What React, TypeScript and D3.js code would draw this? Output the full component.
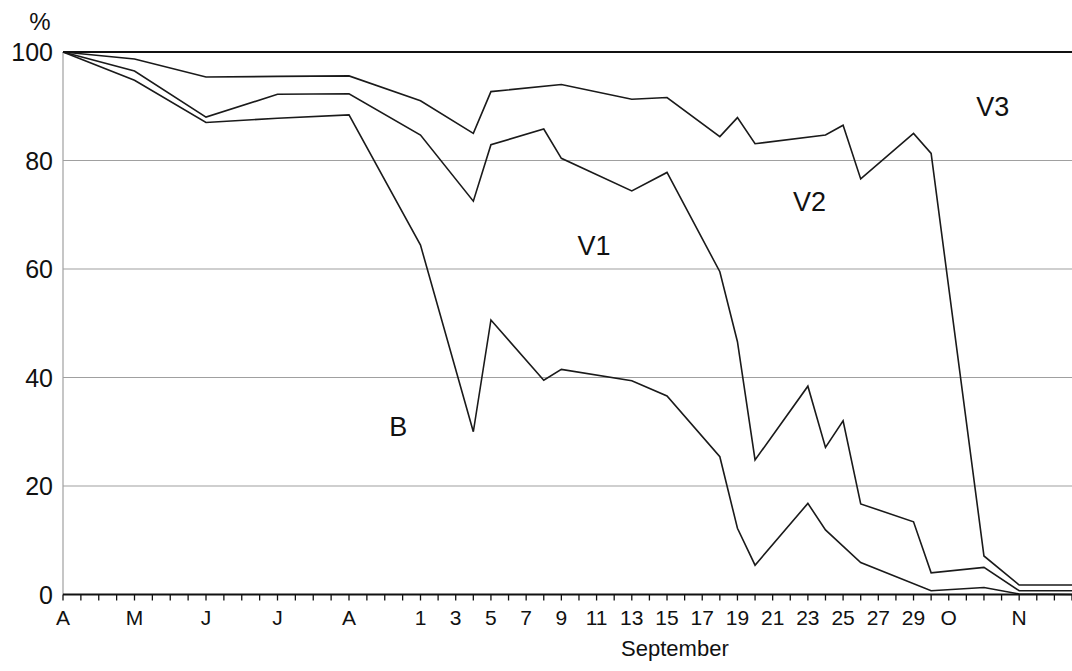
import * as d3 from "d3";

// x positions are in axis-tick units: weekly ticks Apr–Aug, daily in September, weekly again in Oct/Nov
const tickLabels = ["A", "M", "J", "J", "A", "1", "3", "5", "7", "9", "11", "13", "15", "17", "19", "21", "23", "25", "27", "29", "O", "N"];
const tickLabelPos = [0, 4, 8, 12, 16, 20, 22, 24, 26, 28, 30, 32, 34, 36, 38, 40, 42, 44, 46, 48, 50, 54];
const yTicks = [0, 20, 40, 60, 80, 100];

// B boundary
const bT = [0, 4, 8, 12, 16, 20, 23, 24, 27, 28, 32, 34, 37, 38, 39, 42, 43, 45, 49, 52, 54, 57];
const bV = [100, 94.8, 87.0, 87.8, 88.4, 64.4, 30.0, 50.6, 39.5, 41.5, 39.4, 36.6, 25.4, 12.2, 5.4, 16.8, 11.9, 5.9, 0.7, 1.3, 0.1, 0];

// V1 boundary
const v1T = [0, 4, 8, 12, 16, 20, 23, 24, 27, 28, 32, 34, 37, 38, 39, 42, 43, 44, 45, 48, 49, 52, 54, 57];
const v1V = [100, 96.5, 88.0, 92.2, 92.3, 84.7, 72.5, 82.9, 85.8, 80.4, 74.4, 77.8, 59.5, 46.6, 24.8, 38.4, 27.1, 32.0, 16.7, 13.4, 4.0, 5.0, 0.7, 0.7];

// V2 boundary
const v2T = [0, 4, 8, 12, 16, 20, 23, 24, 28, 32, 34, 37, 38, 39, 43, 44, 45, 48, 49, 52, 54, 57];
const v2V = [100, 98.7, 95.4, 95.5, 95.6, 91.0, 85.0, 92.7, 94.0, 91.3, 91.6, 84.4, 87.9, 83.1, 84.7, 86.5, 76.6, 85.0, 81.3, 7.1, 1.75, 1.75];

// V3 top (total)
const v3T = [0, 57];
const v3V = [100, 100];

const areaLabels = ["B", "V1", "V2", "V3"];
const areaLabelT = [18.75, 29.85, 42.1, 52.5];
const areaLabelV = [31, 64.4, 72.5, 90];

const W = 1072;
const H = 671;

export default function App() {
  const x = d3.scaleLinear().domain([0, 20, 57]).range([63, 420.5, 1072]);
  const y = d3.scaleLinear().domain([0, 100]).range([594.5, 52]);

  const line = d3
    .line<[number, number]>()
    .x((d) => x(d[0]))
    .y((d) => y(d[1]));

  const series = [
    { t: bT, v: bV },
    { t: v1T, v: v1V },
    { t: v2T, v: v2V },
  ];

  const allTicks = d3.range(0, 58);
  const font = "Liberation Sans, Arial, Helvetica, sans-serif";

  return (
    <svg width={W} height={H} style={{ position: "absolute", left: 0, top: 0 }} fontFamily={font}>
      <rect width={W} height={H} fill="#fff" />

      {/* grid */}
      {yTicks.filter((d) => d > 0 && d < 100).map((d) => (
        <line key={d} x1={x(0)} x2={W} y1={y(d)} y2={y(d)} stroke="#a0a0a0" strokeWidth={1.2} />
      ))}
      <line x1={x(0)} x2={x(0)} y1={y(100)} y2={y(0)} stroke="#a0a0a0" strokeWidth={1.2} />

      {/* y labels */}
      {yTicks.map((d) => (
        <text key={d} x={53} y={y(d)} dy="0.36em" textAnchor="end" fontSize={25} fill="#111">
          {d}
        </text>
      ))}
      <text x={40} y={21} dy="0.36em" textAnchor="middle" fontSize={24} fill="#111">%</text>

      {/* series */}
      {series.map((s, i) => (
        <path
          key={i}
          d={line(s.t.map((t, j) => [t, s.v[j]] as [number, number])) || ""}
          fill="none"
          stroke="#1a1a1a"
          strokeWidth={1.6}
          strokeLinejoin="miter"
        />
      ))}
      <path
        d={line(v3T.map((t, j) => [t, v3V[j]] as [number, number])) || ""}
        fill="none"
        stroke="#111"
        strokeWidth={2}
      />

      {/* x axis */}
      <line x1={x(0)} x2={W} y1={y(0)} y2={y(0)} stroke="#111" strokeWidth={1.8} />
      {allTicks.map((t) => (
        <line key={t} x1={x(t)} x2={x(t)} y1={y(0)} y2={y(0) + 6} stroke="#111" strokeWidth={1.3} />
      ))}
      {tickLabels.map((l, i) => (
        <text key={i} x={x(tickLabelPos[i])} y={625} textAnchor="middle" fontSize={21} fill="#111">
          {l}
        </text>
      ))}
      <text x={x(34.45)} y={656} textAnchor="middle" fontSize={22} fill="#111">September</text>

      {/* area labels */}
      {areaLabels.map((l, i) => (
        <text key={l} x={x(areaLabelT[i])} y={y(areaLabelV[i])} dy="0.36em" textAnchor="middle" fontSize={27} fill="#111">
          {l}
        </text>
      ))}
    </svg>
  );
}
